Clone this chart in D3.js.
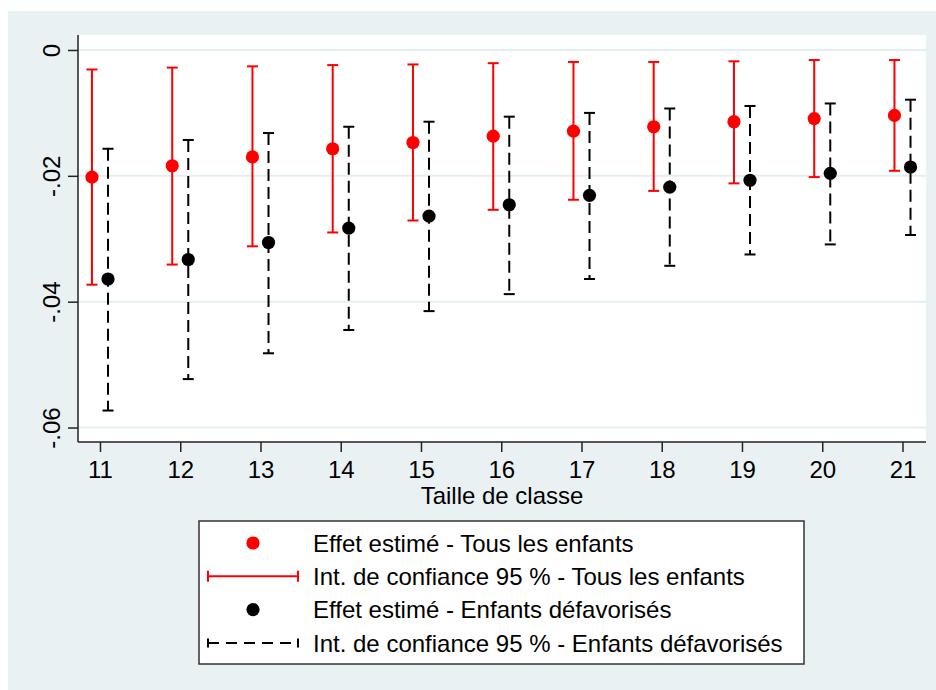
<!DOCTYPE html>
<html>
<head>
<meta charset="utf-8">
<script src="https://cdn.jsdelivr.net/npm/d3@7"></script>
<style>
  html, body { margin: 0; padding: 0; background: #ffffff; }
  svg { display: block; }
  text { font-family: "Liberation Sans", Arial, sans-serif; fill: #000; }
</style>
</head>
<body>
<script>
// Class sizes (x axis)
const classSizes = [11, 12, 13, 14, 15, 16, 17, 18, 19, 20, 21];

// Estimated effect and 95% CI, all children
const estAll = [-0.0202, -0.0184, -0.0170, -0.0157, -0.0147, -0.0137, -0.0129, -0.0122, -0.0114, -0.0109, -0.0104];
const loAll  = [-0.0373, -0.0341, -0.0312, -0.0290, -0.0271, -0.0254, -0.0238, -0.0224, -0.0212, -0.0202, -0.0192];
const hiAll  = [-0.0031, -0.0028, -0.0026, -0.0024, -0.0023, -0.0021, -0.0019, -0.0019, -0.0018, -0.0016, -0.0016];

// Estimated effect and 95% CI, disadvantaged children
const estDis = [-0.0364, -0.0333, -0.0306, -0.0283, -0.0264, -0.0246, -0.0231, -0.0218, -0.0207, -0.0196, -0.0186];
const loDis  = [-0.0573, -0.0523, -0.0482, -0.0445, -0.0415, -0.0388, -0.0364, -0.0343, -0.0325, -0.0309, -0.0294];
const hiDis  = [-0.0157, -0.0143, -0.0132, -0.0122, -0.0114, -0.0106, -0.0100, -0.0093, -0.0089, -0.0085, -0.0079];

const yTicks = [0, -0.02, -0.04, -0.06];
const yTickLabels = ["0", "-.02", "-.04", "-.06"];

const xTitle = "Taille de classe";
const legendLabels = [
  "Effet estimé - Tous les enfants",
  "Int. de confiance 95 % - Tous les enfants",
  "Effet estimé - Enfants défavorisés",
  "Int. de confiance 95 % - Enfants défavorisés"
];

const W = 936, H = 690;
const plot = { left: 78, right: 926, top: 35, bottom: 442 };
const red = "#ff0000", black = "#000000";
const panelFill = "#eaf1f3", gridColor = "#e4edf0";
const offset = 0.1;     // horizontal shift between the two series
const capHalf = 5.5;
const dotR = 6.6;
const fontSize = 24;

const svg = d3.select("body").append("svg").attr("width", W).attr("height", H);

// graph region and plot region
svg.append("rect").attr("x", 8).attr("y", 11).attr("width", W - 8).attr("height", H - 11).attr("fill", panelFill);
svg.append("rect").attr("x", plot.left).attr("y", plot.top)
  .attr("width", plot.right - plot.left).attr("height", plot.bottom - plot.top).attr("fill", "#fff");

const x = d3.scaleLinear().domain([10.726, 21.293]).range([plot.left, plot.right]);
const y = d3.scaleLinear().domain([-0.0623, 0.00238]).range([plot.bottom, plot.top]);

// horizontal grid lines
svg.append("g").selectAll("line").data(yTicks).join("line")
  .attr("x1", plot.left).attr("x2", plot.right)
  .attr("y1", d => y(d)).attr("y2", d => y(d))
  .attr("stroke", gridColor).attr("stroke-width", 2);

// y axis
const yAxis = d3.axisLeft(y).tickValues(yTicks).tickSize(10).tickFormat((d, i) => yTickLabels[i]);
const gy = svg.append("g").attr("transform", `translate(${plot.left},0)`).call(yAxis);
gy.select(".domain").attr("d", `M0,${plot.top}V${plot.bottom}`).attr("stroke", "#222").attr("stroke-width", 1.5);
gy.selectAll(".tick line").attr("stroke", "#222").attr("stroke-width", 1.5);
gy.selectAll(".tick text")
  .attr("x", 0).attr("y", 0).attr("dy", null)
  .attr("transform", "translate(-18.5,0) rotate(-90)")
  .attr("text-anchor", "middle")
  .style("font-size", fontSize + "px")
  .style("font-family", "'Liberation Sans', Arial, sans-serif");

// x axis
const xAxis = d3.axisBottom(x).tickValues(classSizes).tickSize(10).tickFormat(d3.format("d"));
const gx = svg.append("g").attr("transform", `translate(0,${plot.bottom})`).call(xAxis);
gx.select(".domain").attr("d", `M${plot.left},0H${plot.right}`).attr("stroke", "#222").attr("stroke-width", 1.5);
gx.selectAll(".tick line").attr("stroke", "#222").attr("stroke-width", 1.5);
gx.selectAll(".tick text")
  .attr("y", 36).attr("dy", null)
  .style("font-size", fontSize + "px")
  .style("font-family", "'Liberation Sans', Arial, sans-serif");

svg.append("text").attr("x", (plot.left + plot.right) / 2).attr("y", 504)
  .attr("text-anchor", "middle").style("font-size", fontSize + "px").text(xTitle);

// series
function drawSeries(est, lo, hi, dx, color, dash) {
  const g = svg.append("g");
  const rows = classSizes.map((c, i) => ({ c: c + dx, est: est[i], lo: lo[i], hi: hi[i] }));
  g.selectAll("line.ci").data(rows).join("line").attr("class", "ci")
    .attr("x1", d => x(d.c)).attr("x2", d => x(d.c))
    .attr("y1", d => y(d.hi)).attr("y2", d => y(d.lo))
    .attr("stroke", color).attr("stroke-width", 2)
    .attr("stroke-dasharray", dash);
  ["hi", "lo"].forEach(k => {
    g.selectAll("line.cap-" + k).data(rows).join("line").attr("class", "cap-" + k)
      .attr("x1", d => x(d.c) - capHalf).attr("x2", d => x(d.c) + capHalf)
      .attr("y1", d => y(d[k])).attr("y2", d => y(d[k]))
      .attr("stroke", color).attr("stroke-width", 2);
  });
  g.selectAll("circle").data(rows).join("circle")
    .attr("cx", d => x(d.c)).attr("cy", d => y(d.est)).attr("r", dotR).attr("fill", color);
}
drawSeries(estAll, loAll, hiAll, -offset, red, null);
drawSeries(estDis, loDis, hiDis, offset, black, "12,6");

// legend
const lg = svg.append("g");
lg.append("rect").attr("x", 199).attr("y", 521).attr("width", 605).attr("height", 143)
  .attr("fill", "#fff").attr("stroke", "#333").attr("stroke-width", 1.5);
const rowY = [543, 576.3, 609.6, 643];
const symL = 208, symR = 298, symC = 253;
lg.append("circle").attr("cx", symC).attr("cy", rowY[0]).attr("r", dotR).attr("fill", red);
lg.append("line").attr("x1", symL).attr("x2", symR).attr("y1", rowY[1]).attr("y2", rowY[1])
  .attr("stroke", red).attr("stroke-width", 2);
[symL, symR].forEach(px => lg.append("line").attr("x1", px).attr("x2", px)
  .attr("y1", rowY[1] - capHalf).attr("y2", rowY[1] + capHalf).attr("stroke", red).attr("stroke-width", 2));
lg.append("circle").attr("cx", symC).attr("cy", rowY[2]).attr("r", dotR).attr("fill", black);
lg.append("line").attr("x1", symL).attr("x2", symR).attr("y1", rowY[3]).attr("y2", rowY[3])
  .attr("stroke", black).attr("stroke-width", 2).attr("stroke-dasharray", "11,7");
[symL, symR].forEach(px => lg.append("line").attr("x1", px).attr("x2", px)
  .attr("y1", rowY[3] - 4.5).attr("y2", rowY[3] + 4.5).attr("stroke", black).attr("stroke-width", 2));
lg.selectAll("text").data(legendLabels).join("text")
  .attr("x", 313).attr("y", (d, i) => rowY[i] + 8.7)
  .style("font-size", fontSize + "px").text(d => d);
</script>
</body>
</html>
